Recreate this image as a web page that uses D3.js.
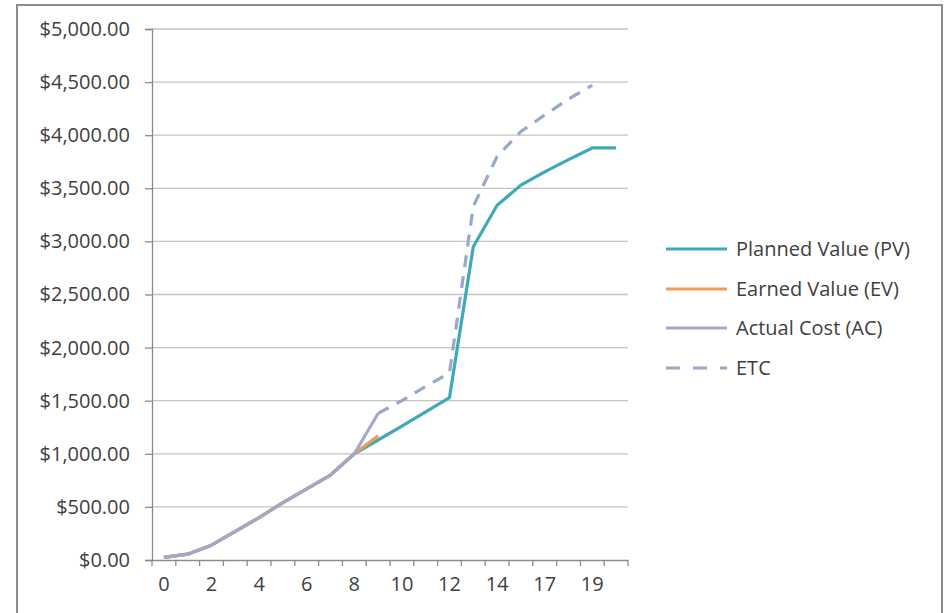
<!DOCTYPE html>
<html>
<head>
<meta charset="utf-8">
<script src="https://cdn.jsdelivr.net/npm/d3@7"></script>
<style>
  html, body { margin: 0; padding: 0; background: #fff; }
  svg { display: block; }
  text { font-family: "Open Sans", "Noto Sans", sans-serif; fill: #404040; }
</style>
</head>
<body>
<svg id="chart" width="946" height="613"></svg>
<script>
const categories = [0,1,2,3,4,5,6,7,8,9,10,11,12,13,14,16,17,18,19,20];
const tickLabels = [0,2,4,6,8,10,12,14,17,19];
const yTicks = [0,500,1000,1500,2000,2500,3000,3500,4000,4500,5000];
const seriesNames = ["Planned Value (PV)", "Earned Value (EV)", "Actual Cost (AC)", "ETC"];
const pv  = [25,55,140,270,400,540,670,800,1000,1130,1260,1395,1530,2950,3340,3530,3655,3770,3880,3880];
const ev  = [25,55,140,270,400,540,670,800,1000,1170,null,null,null,null,null,null,null,null,null,null];
const ac  = [25,55,140,270,400,540,670,800,1000,1380,null,null,null,null,null,null,null,null,null,null];
const etc = [null,null,null,null,null,null,null,null,null,1380,1500,1635,1760,3330,3800,4035,4190,4340,4470,null];

const colors = ["#3fa9b9", "#f59a55", "#a3a8c8", "#98a9cc"];
const dashes = [null, null, null, "12,9"];
const values = [pv, ev, ac, etc];

const svg = d3.select("#chart");

// outer frame
svg.append("rect").attr("x", 17).attr("y", 5).attr("width", 925).attr("height", 612)
  .attr("fill", "#fff").attr("stroke", "#8c8c8c").attr("stroke-width", 2);

const pLeft = 152, pRight = 628, pTop = 29, pBottom = 560;
const x = d3.scaleBand().domain(categories).range([pLeft, pRight]).padding(0);
const y = d3.scaleLinear().domain([0, 5000]).range([pBottom, pTop]);
const cx = c => x(c) + x.bandwidth() / 2;

// gridlines
svg.append("g").selectAll("line").data(yTicks.filter(t => t > 0)).join("line")
  .attr("x1", pLeft).attr("x2", pRight)
  .attr("y1", d => y(d)).attr("y2", d => y(d))
  .attr("stroke", "#c4c4c4").attr("stroke-width", 1.3);

// y axis
const yAxis = d3.axisLeft(y).tickValues(yTicks).tickSize(7).tickPadding(15)
  .tickFormat(d => "$" + d3.format(",.2f")(d));
const gy = svg.append("g").attr("transform", `translate(${pLeft},0)`).call(yAxis);
gy.select(".domain").attr("stroke", "#8c8c8c").attr("stroke-width", 1.3);
gy.selectAll(".tick line").attr("stroke", "#8c8c8c").attr("stroke-width", 1.3);
gy.selectAll(".tick text").style("font-size", "20px").attr("fill", "#404040")
  .style("font-family", '"Open Sans", sans-serif');

// x axis
const xAxis = d3.axisBottom(x).tickValues(tickLabels).tickSize(0).tickPadding(17).tickSizeOuter(0);
const gx = svg.append("g").attr("transform", `translate(0,${pBottom})`).call(xAxis);
gx.select(".domain").attr("stroke", "#8c8c8c").attr("stroke-width", 1.3);
gx.selectAll(".tick text").style("font-size", "20px").attr("fill", "#404040")
  .style("font-family", '"Open Sans", sans-serif');
// boundary tick marks
const bounds = categories.map(c => x(c)).concat([pRight]);
gx.append("g").selectAll("line").data(bounds).join("line")
  .attr("x1", d => d).attr("x2", d => d).attr("y1", 0).attr("y2", 6)
  .attr("stroke", "#8c8c8c").attr("stroke-width", 1.3);

// lines
const line = d3.line()
  .defined(d => d.v !== null)
  .x(d => cx(d.c)).y(d => y(d.v));

values.forEach((vals, i) => {
  const data = categories.map((c, j) => ({c: c, v: vals[j]}));
  svg.append("path").datum(data)
    .attr("d", line)
    .attr("fill", "none")
    .attr("stroke", colors[i])
    .attr("stroke-width", 3.2)
    .attr("stroke-linejoin", "round")
    .attr("stroke-dasharray", dashes[i]);
});

// legend
const legendY = [249, 289, 328, 368];
const lg = svg.append("g");
seriesNames.forEach((name, i) => {
  lg.append("line").attr("x1", 666).attr("x2", 727)
    .attr("y1", legendY[i]).attr("y2", legendY[i])
    .attr("stroke", colors[i]).attr("stroke-width", 3.2)
    .attr("stroke-dasharray", i === 3 ? "14,13" : null);
  lg.append("text").attr("x", 736).attr("y", legendY[i]).attr("dy", "0.35em")
    .style("font-size", "20px").text(name);
});
</script>
</body>
</html>
